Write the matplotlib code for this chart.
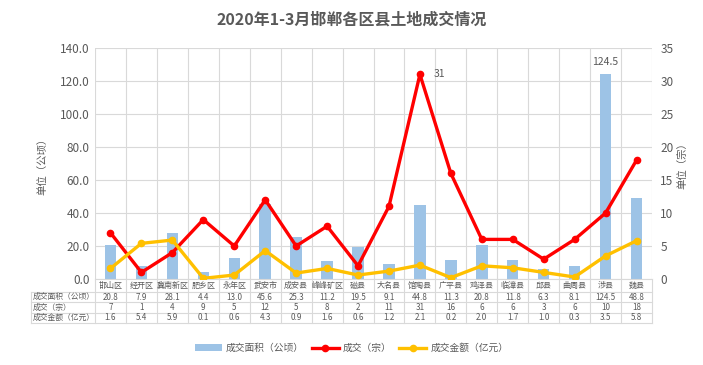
import matplotlib
matplotlib.use('Agg')
import matplotlib.pyplot as plt
from matplotlib.patches import Patch
from matplotlib.lines import Line2D

plt.rcParams['font.family'] = ['Noto Sans CJK SC', 'DejaVu Sans']

# data
districts = ['邯山区', '经开区', '冀南新区', '肥乡区', '永年区', '武安市', '成安县', '峰峰矿区', '磁县',
             '大名县', '馆陶县', '广平县', '鸡泽县', '临漳县', '邱县', '曲周县', '涉县', '魏县']
area = [20.8, 7.9, 28.1, 4.4, 13.0, 45.6, 25.3, 11.2, 19.5, 9.1, 44.8, 11.3, 20.8, 11.8, 6.3, 8.1, 124.5, 48.8]
deals = [7, 1, 4, 9, 5, 12, 5, 8, 2, 11, 31, 16, 6, 6, 3, 6, 10, 18]
amount = [1.6, 5.4, 5.9, 0.1, 0.6, 4.3, 0.9, 1.6, 0.6, 1.2, 2.1, 0.2, 2.0, 1.7, 1.0, 0.3, 3.5, 5.8]
row_labels = ['成交面积（公顷）', '成交（宗）', '成交金额（亿元）']

BLUE = '#9DC3E6'
RED = '#FF0000'
YELLOW = '#FFC000'
GRID = '#D9D9D9'
TXT = '#595959'

W, H = 703, 365
fig = plt.figure(figsize=(W / 100, H / 100), dpi=100)
# plot area in pixels
px_l, px_r, px_t, px_b = 95, 652, 48, 279
ax = fig.add_axes([px_l / W, 1 - px_b / H, (px_r - px_l) / W, (px_b - px_t) / H])

n = len(districts)
xs = list(range(n))
ax.bar(xs, area, width=0.37, color=BLUE, zorder=2)
ax.set_xlim(-0.5, n - 0.5)
ax.set_ylim(0, 140)
ax.set_yticks(range(0, 141, 20))
ax.set_yticklabels(['%.1f' % v for v in range(0, 141, 20)])
ax.set_xticks([])
ax.grid(axis='y', color=GRID, lw=0.8, zorder=0)
for k in range(n + 1):
    ax.axvline(k - 0.5, color=GRID, lw=0.8, zorder=0)
for s in ax.spines.values():
    s.set_visible(False)
ax.tick_params(axis='y', length=0, labelsize=8.5, labelcolor=TXT, pad=4)
ax.set_ylabel('单位（公顷）', fontsize=7.5, color=TXT, labelpad=9)
ax.text(16, 124.5 + 4, '124.5', ha='center', va='bottom', fontsize=7.5, color=TXT)

ax2 = ax.twinx()
ax2.plot(xs, deals, color=RED, lw=2.4, marker='o', ms=4.5, zorder=3)
ax2.plot(xs, amount, color=YELLOW, lw=2.4, marker='o', ms=4.5, zorder=3)
ax2.set_ylim(0, 35)
ax2.set_yticks(range(0, 36, 5))
for s in ax2.spines.values():
    s.set_visible(False)
ax2.tick_params(axis='y', length=0, labelsize=8.5, labelcolor=TXT, pad=6)
ax2.set_ylabel('单位（宗）', fontsize=7.5, color=TXT, labelpad=3, rotation=90)
ax2.text(10.45, 31, '31', ha='left', va='center', fontsize=7.5, color=TXT)

# data table under the chart
cw = (px_r - px_l) / n


def ay(py):
    return (px_b - py) / (px_b - px_t)


tr = ax.get_xaxis_transform()
x_left = -0.5 - (px_l - 31) / cw
row_lines = [292, 302.3, 312.6, 323]
for k in range(n + 1):
    ax.plot([k - 0.5, k - 0.5], [0, ay(323)], transform=tr, color=GRID, lw=0.8, clip_on=False)
ax.plot([x_left, x_left], [ay(292), ay(323)], transform=tr, color=GRID, lw=0.8, clip_on=False)
for py in row_lines:
    ax.plot([x_left, n - 0.5], [ay(py), ay(py)], transform=tr, color=GRID, lw=0.8, clip_on=False)
ax.plot([-0.5, n - 0.5], [0, 0], transform=tr, color=GRID, lw=0.8, clip_on=False)

for i, name in enumerate(districts):
    ax.text(i, ay(285.5), name, ha='center', va='center', fontsize=5.8, color=TXT, transform=tr)
rows = [['%.1f' % v for v in area], [str(v) for v in deals], ['%.1f' % v for v in amount]]
for r, vals in enumerate(rows):
    yc = ay((row_lines[r] + row_lines[r + 1]) / 2)
    ax.text(x_left + 0.05, yc, row_labels[r], ha='left', va='center', fontsize=5.6, color=TXT, transform=tr)
    for i, v in enumerate(vals):
        ax.text(i, yc, v, ha='center', va='center', fontsize=5.8, color=TXT, transform=tr)

fig.text(0.5, 1 - 20 / H, '2020年1-3月邯郸各区县土地成交情况', ha='center', va='center',
         fontsize=11.5, fontweight='bold', color=TXT)

handles = [Patch(facecolor=BLUE, edgecolor='none'),
           Line2D([], [], color=RED, lw=2.4, marker='o', ms=4.5),
           Line2D([], [], color=YELLOW, lw=2.4, marker='o', ms=4.5)]
labels = ['成交面积（公顷）', '成交（宗）', '成交金额（亿元）']
fig.legend(handles, labels, loc='center', bbox_to_anchor=(0.5, 1 - 348 / H), ncol=3, frameon=False,
           fontsize=7, labelcolor=TXT, handlelength=2.8, handleheight=0.6, columnspacing=0.8,
           handletextpad=0.4)

fig.savefig('out.png', dpi=100)
